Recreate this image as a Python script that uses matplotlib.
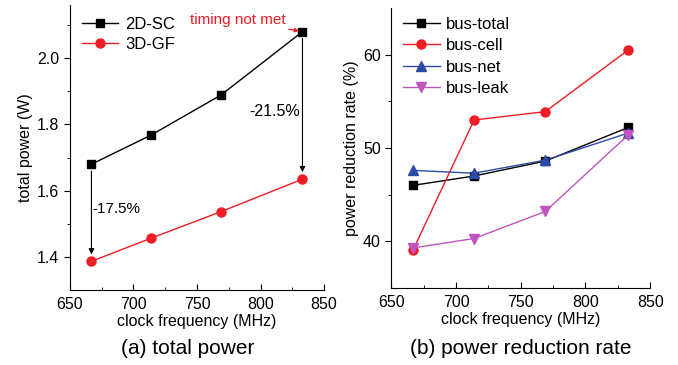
import matplotlib.pyplot as plt

plt.rcParams['font.family'] = ['Liberation Sans', 'DejaVu Sans']

# clock frequency (MHz)
freq = [667, 714, 769, 833]

# (a) total power (W)
power_2d = [1.680, 1.768, 1.889, 2.080]
power_3d = [1.387, 1.457, 1.537, 1.635]

# (b) power reduction rate (%)
bus_total = [46.0, 47.0, 48.6, 52.2]
bus_cell = [39.1, 53.0, 53.9, 60.5]
bus_net = [47.6, 47.3, 48.7, 51.6]
bus_leak = [39.3, 40.3, 43.2, 51.4]

fig = plt.figure(figsize=(6.78, 3.65), dpi=100)
ax1 = fig.add_axes([0.103, 0.205, 0.375, 0.781])
ax2 = fig.add_axes([0.577, 0.211, 0.382, 0.767])

RED = '#ee1c25'
BLUE = '#2b4ca6'
MAG = '#c055c0'
FS = 11.5

def style(ax):
    for s in ['top', 'right']:
        ax.spines[s].set_visible(False)
    ax.set_xlim(650, 850)
    ax.set_xticks([650, 700, 750, 800, 850])
    ax.set_xticks([675, 725, 775, 825], minor=True)
    ax.tick_params(axis='x', which='both', direction='in', labelsize=FS, pad=5)
    ax.tick_params(axis='y', which='both', direction='out', labelsize=FS)
    ax.tick_params(which='major', length=4)
    ax.tick_params(which='minor', length=2.5)
    ax.set_xlabel('clock frequency (MHz)', fontsize=FS, labelpad=1.5)

# --- (a) ---
ax1.plot(freq, power_2d, color='black', marker='s', ms=6, lw=1, label='2D-SC')
ax1.plot(freq, power_3d, color=RED, marker='o', ms=6.5, lw=1, label='3D-GF')
style(ax1)
ax1.set_ylim(1.3, 2.16)
ax1.set_yticks([1.4, 1.6, 1.8, 2.0])
ax1.set_yticks([1.5, 1.7, 1.9, 2.1], minor=True)
ax1.set_ylabel('total power (W)', fontsize=FS, labelpad=3)
ax1.legend(loc='upper left', bbox_to_anchor=(0.0, 1.0), frameon=False,
           fontsize=12, handlelength=2.2, handletextpad=0.4,
           labelspacing=0.3, borderaxespad=0.3)

ap = dict(arrowstyle='-|>', color='black', lw=0.8, mutation_scale=8, shrinkA=5, shrinkB=5)
ax1.annotate('', xy=(freq[0], power_3d[0]), xytext=(freq[0], power_2d[0]), arrowprops=ap)
ax1.annotate('', xy=(freq[-1], power_3d[-1]), xytext=(freq[-1], power_2d[-1]), arrowprops=ap)
ax1.text(freq[0] + 0.5, 1.545, '-17.5%', fontsize=11, ha='left', va='center')
ax1.text(freq[-1] - 2, 1.84, '-21.5%', fontsize=11.5, ha='right', va='center')
ax1.annotate('timing not met', xy=(freq[-1], power_2d[-1]), xytext=(freq[-1] - 13, 2.115),
             fontsize=11, color=RED, ha='right', va='center',
             arrowprops=dict(arrowstyle='-|>', color=RED, lw=0.9, mutation_scale=6,
                             shrinkA=0, shrinkB=2.5))

# --- (b) ---
ax2.plot(freq, bus_total, color='black', marker='s', ms=6, lw=1, label='bus-total')
ax2.plot(freq, bus_cell, color=RED, marker='o', ms=6.5, lw=1, label='bus-cell')
ax2.plot(freq, bus_net, color=BLUE, marker='^', ms=6.5, lw=1, label='bus-net')
ax2.plot(freq, bus_leak, color=MAG, marker='v', ms=6.5, lw=1, label='bus-leak')
style(ax2)
ax2.set_ylim(35, 65)
ax2.set_yticks([40, 50, 60])
ax2.set_yticks([45, 55], minor=True)
ax2.set_ylabel('power reduction rate (%)', fontsize=FS, labelpad=3)
ax2.legend(loc='upper left', bbox_to_anchor=(0.0, 1.01), frameon=False,
           fontsize=12, handlelength=2.2, handletextpad=0.4,
           labelspacing=0.38, borderaxespad=0.3)

fig.text(0.277, 0.03, '(a) total power', fontsize=15, ha='center')
fig.text(0.768, 0.03, '(b) power reduction rate', fontsize=15, ha='center')

fig.savefig('out.png', dpi=100)
